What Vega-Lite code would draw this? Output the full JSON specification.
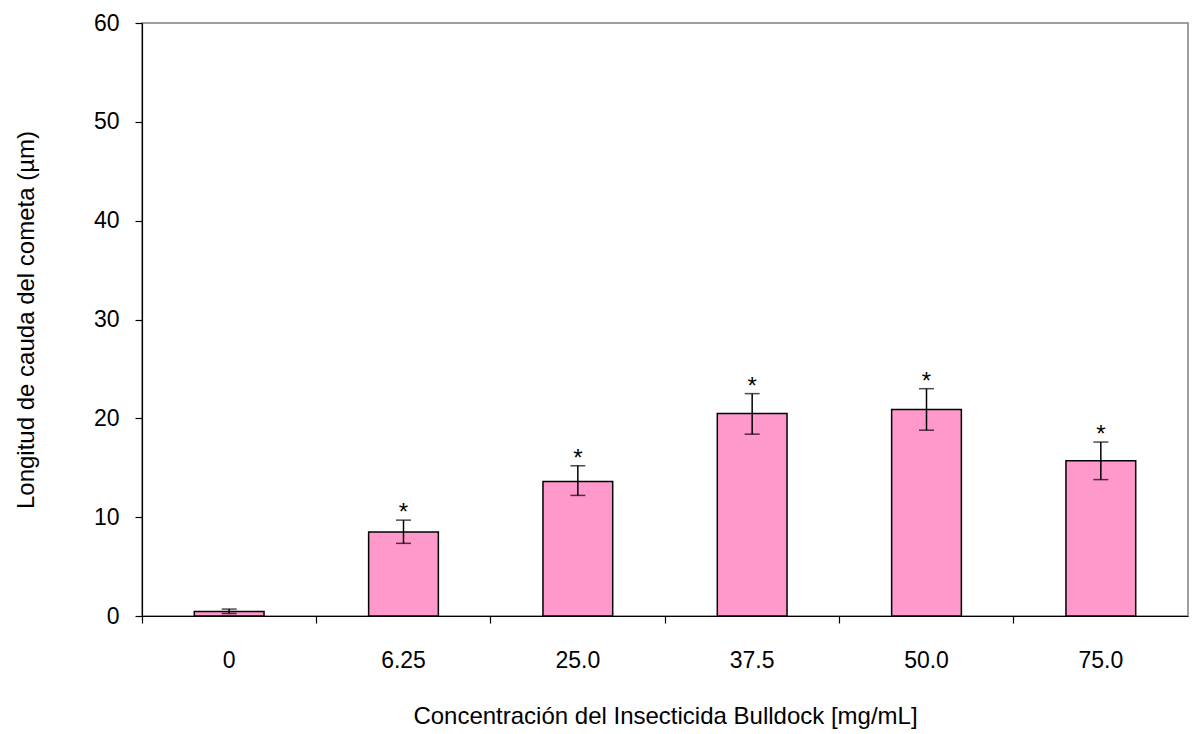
{
  "$schema": "https://vega.github.io/schema/vega-lite/v6.json",
  "width": 1046,
  "height": 593,
  "autosize": {"type": "none"},
  "padding": {"left": 142, "top": 23, "right": 5, "bottom": 118},
  "background": "white",
  "config": {
    "view": {"stroke": "#808080", "strokeWidth": 1.5},
    "font": "Liberation Sans",
    "axis": {"labelFont": "Liberation Sans", "titleFont": "Liberation Sans", "labelColor": "black", "titleColor": "black", "titleFontWeight": "normal", "domainColor": "black", "tickColor": "black", "domainWidth": 1.2, "tickWidth": 1.2}
  },
  "data": {
    "values": [
      {"conc": "0", "mean": 0.45, "low": 0.25, "high": 0.7, "sig": ""},
      {"conc": "6.25", "mean": 8.5, "low": 7.35, "high": 9.7, "sig": "*"},
      {"conc": "25.0", "mean": 13.6, "low": 12.2, "high": 15.2, "sig": "*"},
      {"conc": "37.5", "mean": 20.5, "low": 18.4, "high": 22.5, "sig": "*"},
      {"conc": "50.0", "mean": 20.9, "low": 18.8, "high": 23.0, "sig": "*"},
      {"conc": "75.0", "mean": 15.7, "low": 13.8, "high": 17.6, "sig": "*"}
    ]
  },
  "encoding": {
    "x": {"field": "conc", "type": "nominal", "sort": null,
      "scale": {"paddingInner": 0, "paddingOuter": 0}}
  },
  "layer": [
    {
      "mark": {"type": "bar", "width": {"band": 0.4}, "color": "#FF99CC", "stroke": "black", "strokeWidth": 1.5},
      "encoding": {
        "x": {"field": "conc", "type": "nominal", "sort": null,
          "axis": {"orient": "bottom", "bandPosition": 0, "labels": false, "title": null, "tickSize": 7, "domain": true}},
        "y": {"field": "mean", "type": "quantitative",
          "scale": {"domain": [0, 60], "nice": false},
          "axis": {"values": [0, 10, 20, 30, 40, 50, 60], "grid": false, "tickSize": 7, "labelFontSize": 23, "labelPadding": 16,
            "title": "Longitud de cauda del cometa (µm)", "titleFontSize": 24, "titlePadding": 55}}
      }
    },
    {
      "mark": {"type": "rule", "color": "black", "strokeWidth": 1.5},
      "encoding": {
        "x": {"field": "conc", "type": "nominal", "sort": null,
          "axis": {"orient": "bottom", "ticks": false, "tickSize": 0, "domain": false, "labelFontSize": 23, "labelPadding": 33, "labelAngle": 0,
            "title": "Concentración del Insecticida Bulldock [mg/mL]", "titleFontSize": 24, "titlePadding": 32}},
        "y": {"field": "low", "type": "quantitative"},
        "y2": {"field": "high"}
      }
    },
    {
      "mark": {"type": "tick", "color": "black", "size": 15, "thickness": 1.5, "orient": "horizontal"},
      "encoding": {
        "x": {"field": "conc", "type": "nominal", "sort": null, "axis": null},
        "y": {"field": "low", "type": "quantitative"}
      }
    },
    {
      "mark": {"type": "tick", "color": "black", "size": 15, "thickness": 1.5, "orient": "horizontal"},
      "encoding": {
        "x": {"field": "conc", "type": "nominal", "sort": null, "axis": null},
        "y": {"field": "high", "type": "quantitative"}
      }
    },
    {
      "mark": {"type": "text", "fontSize": 24, "baseline": "middle", "dy": -7, "color": "black", "font": "Liberation Sans"},
      "encoding": {
        "x": {"field": "conc", "type": "nominal", "sort": null, "axis": null},
        "y": {"field": "high", "type": "quantitative"},
        "text": {"field": "sig"}
      }
    }
  ],
  "resolve": {"axis": {"x": "independent"}}
}
